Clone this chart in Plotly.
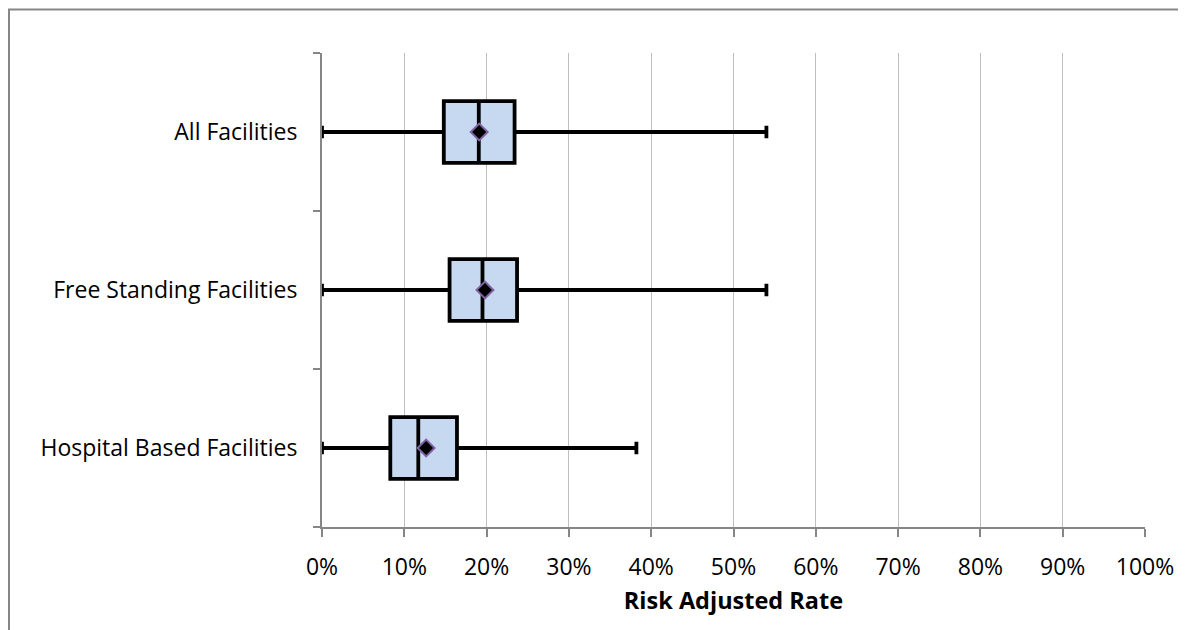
import plotly.graph_objects as go

categories = ["All Facilities", "Free Standing Facilities", "Hospital Based Facilities"]
q_min = [0.0, 0.0, 0.0]
q1 = [0.148, 0.155, 0.083]
median = [0.1905, 0.195, 0.117]
q3 = [0.234, 0.237, 0.164]
q_max = [0.540, 0.540, 0.382]
means = [0.191, 0.198, 0.1265]

x_ticks = [i / 10 for i in range(11)]

FONT = "Open Sans, sans-serif"

fig = go.Figure()
fig.add_trace(go.Box(
    y=categories,
    q1=q1, median=median, q3=q3,
    lowerfence=q_min, upperfence=q_max,
    orientation="h",
    boxpoints=False,
    fillcolor="#C6D9F1",
    line=dict(color="black", width=3.8),
    whiskerwidth=0.2,
    width=0.39,
    showlegend=False,
    hoverinfo="skip",
))
fig.add_trace(go.Scatter(
    x=means, y=categories, mode="markers",
    marker=dict(symbol="diamond", size=13, color="black",
                line=dict(color="#8064A2", width=2)),
    showlegend=False, hoverinfo="skip",
))

fig.update_layout(
    width=1178, height=622,
    margin=dict(l=314, r=41, t=45, b=103),
    paper_bgcolor="white", plot_bgcolor="white",
    font=dict(family=FONT, size=23, color="black"),
    xaxis=dict(
        range=[0, 1], tickvals=x_ticks, tickformat=".0%",
        showgrid=True, gridcolor="#BFBFBF", gridwidth=1,
        showline=True, linecolor="#868686", linewidth=2,
        ticks="outside", ticklen=8, tickcolor="#868686", tickwidth=2,
        ticklabelstandoff=10,
        zeroline=False,
        title=dict(text="<b>Risk Adjusted Rate</b>", standoff=12,
                   font=dict(family=FONT, size=23.5)),
    ),
    yaxis=dict(
        categoryorder="array", categoryarray=categories[::-1],
        range=[-0.5, 2.5],
        showgrid=False, zeroline=False,
        showline=True, linecolor="#868686", linewidth=2,
        ticks="outside", ticklen=7, tickcolor="#868686", tickwidth=2,
        tickson="boundaries",
        ticklabelstandoff=18,
    ),
    shapes=[dict(
        type="rect", xref="paper", yref="paper",
        x0=-0.3803, x1=1.08, y0=-0.25, y1=1.0918,
        line=dict(color="#868686", width=2), fillcolor="rgba(0,0,0,0)",
        layer="below",
    )],
)

fig.write_html("out.html")
